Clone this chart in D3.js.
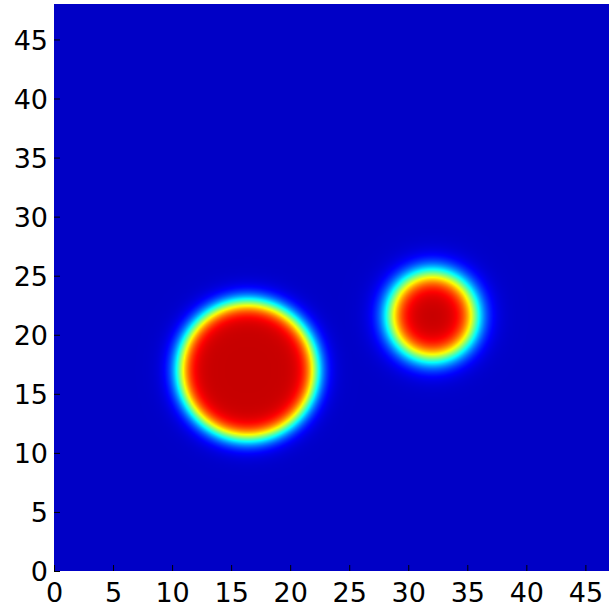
<!DOCTYPE html>
<html>
<head>
<meta charset="utf-8">
<script src="https://cdn.jsdelivr.net/npm/d3@7"></script>
<style>
  html, body { margin: 0; padding: 0; background: #fff; }
  svg { display: block; }
</style>
</head>
<body>
<svg id="chart" width="609" height="606"></svg>
<script>
// Grid extent of the field (data units)
const xExtent = [0, 47];
const yExtent = [0, 48];

// Tick labels
const xTicks = [0, 5, 10, 15, 20, 25, 30, 35, 40, 45];
const yTicks = [0, 5, 10, 15, 20, 25, 30, 35, 40, 45];

// Two smooth blobs: centre, half-level radius and edge softness
const blobX      = [16.4, 32.05];
const blobY      = [17.0, 21.6];
const blobRadius = [5.75, 3.6];
const blobEdge   = [0.5, 0.6];

// Colour limits of the field and the jet colormap
const colorLimits = [-0.08, 1.08];
const jetStops  = [0, 0.125, 0.375, 0.625, 0.875, 1];
const jetColors = ["#000080", "#0000ff", "#00ffff", "#ffff00", "#ff0000", "#800000"];

const plot = { left: 54, right: 609, top: 4, bottom: 571 };

const x = d3.scaleLinear().domain(xExtent).range([plot.left, plot.right]);
const y = d3.scaleLinear().domain(yExtent).range([plot.bottom, plot.top]);

const toUnit = d3.scaleLinear().domain(colorLimits).range([0, 1]).clamp(true);
const jet = d3.scaleLinear().domain(jetStops).range(jetColors).interpolate(d3.interpolateRgb);

// Field value at a point: the strongest of the blobs
function field(px, py) {
  let v = 0;
  for (let k = 0; k < blobX.length; k++) {
    const r = Math.hypot(px - blobX[k], py - blobY[k]);
    const s = 1 / (1 + Math.exp((r - blobRadius[k]) / blobEdge[k]));
    if (s > v) v = s;
  }
  return v;
}

// Rasterise the field onto a canvas, one pixel per sample
const perUnit = 10;
const nx = (xExtent[1] - xExtent[0]) * perUnit;
const ny = (yExtent[1] - yExtent[0]) * perUnit;
const canvas = document.createElement("canvas");
canvas.width = nx; canvas.height = ny;
const ctx = canvas.getContext("2d");
const img = ctx.createImageData(nx, ny);
for (let j = 0; j < ny; j++) {
  const py = yExtent[1] - (j + 0.5) / perUnit;
  for (let i = 0; i < nx; i++) {
    const px = xExtent[0] + (i + 0.5) / perUnit;
    const c = d3.rgb(jet(toUnit(field(px, py))));
    const o = (j * nx + i) * 4;
    img.data[o] = c.r; img.data[o + 1] = c.g; img.data[o + 2] = c.b; img.data[o + 3] = 255;
  }
}
ctx.putImageData(img, 0, 0);

const svg = d3.select("#chart");

svg.append("image")
  .attr("x", x(xExtent[0]))
  .attr("y", y(yExtent[1]))
  .attr("width", x(xExtent[1]) - x(xExtent[0]))
  .attr("height", y(yExtent[0]) - y(yExtent[1]))
  .attr("preserveAspectRatio", "none")
  .attr("href", canvas.toDataURL());

// Axes with inward ticks
const xAxis = d3.axisBottom(x).tickValues(xTicks).tickSizeInner(-6).tickSizeOuter(0);
const yAxis = d3.axisLeft(y).tickValues(yTicks).tickSizeInner(-6).tickSizeOuter(0).tickPadding(6);

const gx = svg.append("g").attr("transform", `translate(0,${plot.bottom})`).call(xAxis);
const gy = svg.append("g").attr("transform", `translate(${plot.left},0)`).call(yAxis);

[gx, gy].forEach(g => {
  g.attr("font-family", "'DejaVu Sans', Verdana, sans-serif").attr("font-size", 27);
  g.select(".domain").remove();
  g.selectAll(".tick line").attr("stroke", "#000").attr("stroke-width", 1);
  g.selectAll(".tick text").attr("fill", "#000");
});
gx.selectAll(".tick text").attr("y", 31).attr("dy", 0);
gy.selectAll(".tick text").attr("dy", "0.36em");
</script>
</body>
</html>
